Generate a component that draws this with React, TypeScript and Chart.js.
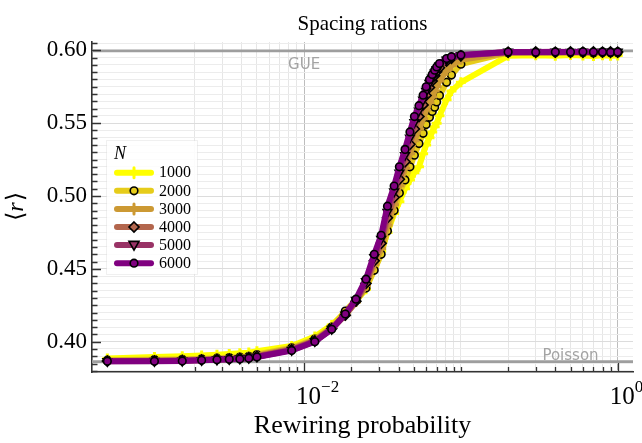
import React, { useEffect, useRef } from 'react';
import { Chart, registerables } from 'chart.js';

Chart.register(...registerables);

// ---------- data ----------
const P = [
  0.000556, 0.00111, 0.00167, 0.00222, 0.00278, 0.00333, 0.00389, 0.00444, 0.005,
  0.00833, 0.0117, 0.015, 0.0183,
  0.0214, 0.0248, 0.028, 0.031, 0.034, 0.0375, 0.0405, 0.044, 0.0473, 0.0505,
  0.054, 0.0574, 0.06, 0.063, 0.0656, 0.068, 0.07, 0.073, 0.081, 0.087,
  0.1,
  0.2, 0.3, 0.4, 0.5, 0.6, 0.7, 0.8, 0.9, 1.0,
];

const R1000 = [
  0.3885, 0.3895, 0.3900, 0.3905, 0.3910, 0.3915, 0.3920, 0.3925, 0.3935,
  0.3970, 0.4035, 0.4115, 0.4200,
  0.4280, 0.4360, 0.4520, 0.4620, 0.4750, 0.4880, 0.4960, 0.5050, 0.5110, 0.5160,
  0.5200, 0.5290, 0.5350, 0.5400, 0.5440, 0.5475, 0.5500, 0.5550, 0.5660, 0.5720,
  0.5780,
  0.5962, 0.5966, 0.5963, 0.5967, 0.5964, 0.5961, 0.5966, 0.5963, 0.5965,
];
const R2000 = [
  0.3873, 0.3877, 0.3879, 0.3883, 0.3887, 0.3891, 0.3895, 0.3900, 0.3912,
  0.3958, 0.4018, 0.4100, 0.4210,
  0.4285, 0.4368, 0.4490, 0.4600, 0.4760, 0.4900, 0.5020, 0.5110, 0.5200, 0.5280,
  0.5360, 0.5430, 0.5490, 0.5540, 0.5580, 0.5610, 0.5646, 0.5690, 0.5780, 0.5830,
  0.5905,
  0.5984, 0.5983, 0.5985, 0.5983, 0.5984, 0.5982, 0.5985, 0.5983, 0.5984,
];
const R3000 = [
  0.3870, 0.3873, 0.3875, 0.3879, 0.3883, 0.3887, 0.3891, 0.3896, 0.3906,
  0.3952, 0.4012, 0.4095, 0.4182,
  0.4272, 0.4385, 0.4530, 0.4640, 0.4800, 0.4940, 0.5070, 0.5190, 0.5290, 0.5380,
  0.5460, 0.5530, 0.5590, 0.5640, 0.5680, 0.5720, 0.5750, 0.5790, 0.5860, 0.5895,
  0.5935,
  0.5985, 0.5986, 0.5984, 0.5986, 0.5985, 0.5987, 0.5985, 0.5986, 0.5985,
];
const R4000 = [
  0.3867, 0.3868, 0.3871, 0.3875, 0.3879, 0.3882, 0.3886, 0.3891, 0.3900,
  0.3946, 0.4006, 0.4090, 0.4182,
  0.4278, 0.4400, 0.4555, 0.4675, 0.4850, 0.4990, 0.5115, 0.5235, 0.5355, 0.5460,
  0.5545, 0.5625, 0.5690, 0.5745, 0.5790, 0.5825, 0.5852, 0.5880, 0.5925, 0.5945,
  0.5962,
  0.5988, 0.5989, 0.5987, 0.5989, 0.5988, 0.5990, 0.5988, 0.5989, 0.5988,
];
const R5000 = [
  0.3866, 0.3867, 0.3869, 0.3873, 0.3877, 0.3880, 0.3884, 0.3888, 0.3897,
  0.3942, 0.4003, 0.4087, 0.4185,
  0.4285, 0.4415, 0.4580, 0.4705, 0.4890, 0.5030, 0.5160, 0.5280, 0.5400, 0.5505,
  0.5585, 0.5660, 0.5720, 0.5775, 0.5812, 0.5845, 0.5870, 0.5895, 0.5935, 0.5950,
  0.5965,
  0.5989, 0.5988, 0.5990, 0.5988, 0.5989, 0.5987, 0.5990, 0.5988, 0.5989,
];
const R6000 = [
  0.3865, 0.3866, 0.3868, 0.3872, 0.3876, 0.3879, 0.3882, 0.3886, 0.3895,
  0.3940, 0.4000, 0.4085, 0.4190,
  0.4292, 0.4429, 0.4600, 0.4730, 0.4930, 0.5068, 0.5200, 0.5320, 0.5440, 0.5545,
  0.5620, 0.5692, 0.5749, 0.5799, 0.5834, 0.5863, 0.5886, 0.5909, 0.5943, 0.5956,
  0.5968,
  0.5988, 0.5987, 0.5989, 0.5988, 0.5990, 0.5988, 0.5989, 0.5987, 0.5989,
];

const SERIES_LABELS = ['1000', '2000', '3000', '4000', '5000', '6000'];
const SERIES_VALUES = [R1000, R2000, R3000, R4000, R5000, R6000];
const SERIES_COLORS = ['#ffff00', '#e6cc1a', '#cc9933', '#b3664d', '#993366', '#800080'];
const SERIES_MARKERS = ['cross', 'circle', 'cross', 'diamond', 'triangleDown', 'circle'];

const GUE = 0.5996;
const POISSON = 0.3863;
const GUE_LABEL = { text: 'GUE', x: 0.01, y: 0.5875 };
const POISSON_LABEL = { text: 'Poisson', x: 0.5, y: 0.3877 };

const TITLE = 'Spacing rations';
const X_TITLE = 'Rewiring probability';
const LEGEND_TITLE = 'N';

const X_MIN = 4.437e-4;
const X_MAX = 1.2518;
const Y_MIN = 0.3792;
const Y_MAX = 0.6057;

const X_MAJOR = [0.01, 1];
const X_MAJOR_LABELS = [['10', '\u22122'], ['10', '0']];
const X_MINOR = [
  0.002, 0.003, 0.004, 0.005, 0.006, 0.007, 0.008, 0.009,
  0.02, 0.03, 0.04, 0.05, 0.06, 0.07, 0.08, 0.09,
  0.1, 0.2, 0.3, 0.4, 0.5, 0.6, 0.7, 0.8, 0.9,
];
const Y_MAJOR = [0.40, 0.45, 0.50, 0.55, 0.60];
const Y_MAJOR_LABELS = ['0.40', '0.45', '0.50', '0.55', '0.60'];
const Y_MINOR_STEP = 0.005;

const SERIF = '"Liberation Serif", "DejaVu Serif", serif';

function yTickValues(): number[] {
  const out: number[] = [];
  for (let k = 76; k <= 121; k++) out.push(Math.round(k * Y_MINOR_STEP * 10000) / 10000);
  return out;
}
const isYMajor = (v: number) => Y_MAJOR.some((m) => Math.abs(m - v) < 1e-6);
const isXMajor = (v: number) => X_MAJOR.some((m) => Math.abs(m - v) / m < 1e-6);

function markerPath(ctx: CanvasRenderingContext2D, style: string, x: number, y: number, r: number) {
  ctx.beginPath();
  if (style === 'circle') {
    ctx.arc(x, y, r, 0, Math.PI * 2);
  } else if (style === 'diamond') {
    ctx.moveTo(x, y - r); ctx.lineTo(x + r, y); ctx.lineTo(x, y + r); ctx.lineTo(x - r, y); ctx.closePath();
  } else if (style === 'triangleDown') {
    ctx.moveTo(x - r, y - r * 0.75); ctx.lineTo(x + r, y - r * 0.75); ctx.lineTo(x, y + r); ctx.closePath();
  }
}

function drawMarker(ctx: CanvasRenderingContext2D, style: string, x: number, y: number, color: string) {
  ctx.save();
  if (style === 'cross') {
    ctx.strokeStyle = color; ctx.lineWidth = 3;
    ctx.beginPath();
    ctx.moveTo(x - 5, y); ctx.lineTo(x + 5, y);
    ctx.moveTo(x, y - 5); ctx.lineTo(x, y + 5);
    ctx.stroke();
  } else {
    markerPath(ctx, style, x, y, style === 'circle' ? 3.8 : 5);
    ctx.fillStyle = color; ctx.fill();
    ctx.strokeStyle = '#000'; ctx.lineWidth = 1.6; ctx.stroke();
  }
  ctx.restore();
}

const customPlugin = {
  id: 'customDecor',
  beforeDatasetsDraw(chart: any) {
    const { ctx, chartArea: a, scales } = chart;
    const x = scales.x, y = scales.y;
    ctx.save();
    ctx.strokeStyle = '#9e9e9e';
    ctx.lineWidth = 2.6;
    for (const v of [GUE, POISSON]) {
      const py = y.getPixelForValue(v);
      ctx.beginPath(); ctx.moveTo(a.left, py); ctx.lineTo(a.right, py); ctx.stroke();
    }
    ctx.fillStyle = '#a3a3a3';
    ctx.font = '15px "DejaVu Sans", sans-serif';
    ctx.textAlign = 'center';
    ctx.textBaseline = 'alphabetic';
    for (const l of [GUE_LABEL, POISSON_LABEL]) {
      ctx.fillText(l.text, x.getPixelForValue(l.x), y.getPixelForValue(l.y));
    }
    ctx.restore();
  },
  afterDatasetsDraw(chart: any) {
    const { ctx, chartArea: a, scales } = chart;
    const x = scales.x, y = scales.y;
    ctx.save();
    // inward ticks
    ctx.strokeStyle = '#333';
    ctx.lineWidth = 1.3;
    ctx.beginPath();
    for (const v of [...X_MINOR, ...X_MAJOR]) {
      const px = Math.round(x.getPixelForValue(v)) + 0.5;
      const len = isXMajor(v) ? 9 : 5;
      ctx.moveTo(px, a.bottom); ctx.lineTo(px, a.bottom - len);
    }
    for (const v of yTickValues()) {
      const py = Math.round(y.getPixelForValue(v)) + 0.5;
      const len = isYMajor(v) ? 9 : 5.5;
      ctx.moveTo(a.left, py); ctx.lineTo(a.left + len, py);
    }
    ctx.stroke();

    // legend
    ctx.fillStyle = 'rgba(255,255,255,0.85)';
    ctx.strokeStyle = 'rgba(0,0,0,0.06)';
    ctx.lineWidth = 1;
    ctx.beginPath();
    ctx.rect(106.5, 140.5, 91, 134);
    ctx.fill(); ctx.stroke();
    ctx.fillStyle = '#000';
    ctx.font = `italic 18px ${SERIF}`;
    ctx.textAlign = 'left';
    ctx.textBaseline = 'middle';
    ctx.fillText(LEGEND_TITLE, 114, 154);
    const y0 = 172.7, dy = 18.1;
    SERIES_LABELS.forEach((lab, i) => {
      const ry = y0 + i * dy;
      ctx.strokeStyle = SERIES_COLORS[i];
      ctx.lineWidth = 6;
      ctx.lineCap = 'round';
      ctx.beginPath(); ctx.moveTo(117, ry); ctx.lineTo(151, ry); ctx.stroke();
      drawMarker(ctx, SERIES_MARKERS[i], 134, ry, SERIES_COLORS[i]);
      ctx.fillStyle = '#000';
      ctx.font = `16px ${SERIF}`;
      ctx.textAlign = 'left';
      ctx.textBaseline = 'middle';
      ctx.fillText(lab, 159, ry + 0.5);
    });
    ctx.restore();
  },
  afterDraw(chart: any) {
    const { ctx, chartArea: a, scales } = chart;
    const x = scales.x;
    const cx = (a.left + a.right) / 2;
    ctx.save();
    ctx.fillStyle = '#000';
    ctx.textBaseline = 'alphabetic';
    ctx.textAlign = 'center';
    ctx.font = `21px ${SERIF}`;
    ctx.fillText(TITLE, cx, 30);
    ctx.font = `26px ${SERIF}`;
    ctx.fillText(X_TITLE, cx, 433);

    // x tick labels with superscripts
    ctx.textAlign = 'left';
    X_MAJOR.forEach((v, i) => {
      const px = x.getPixelForValue(v);
      const [base, exp] = X_MAJOR_LABELS[i];
      ctx.font = `25px ${SERIF}`;
      const bw = ctx.measureText(base).width;
      const left = px - 8;
      ctx.fillText(base, left, 404);
      ctx.font = `17px ${SERIF}`;
      ctx.fillText(exp, left + bw, 392);
    });

    // y title <r>
    ctx.translate(16.7, (a.top + a.bottom) / 2);
    ctx.rotate(-Math.PI / 2);
    const parts = [
      { t: '\u27E8', f: `24px ${SERIF}` },
      { t: 'r', f: `italic 24px ${SERIF}` },
      { t: '\u27E9', f: `24px ${SERIF}` },
    ];
    let total = 0;
    const widths = parts.map((p) => { ctx.font = p.f; const w = ctx.measureText(p.t).width; total += w; return w; });
    let sx = -total / 2;
    ctx.textBaseline = 'middle';
    parts.forEach((p, i) => { ctx.font = p.f; ctx.fillText(p.t, sx, 0); sx += widths[i] + (i === 1 ? 1 : 0); });
    ctx.restore();
  },
};

export default function App() {
  const ref = useRef<HTMLCanvasElement | null>(null);
  useEffect(() => {
    if (!ref.current) return;
    const datasets = SERIES_LABELS.map((lab, i) => {
      const color = SERIES_COLORS[i];
      const m = SERIES_MARKERS[i];
      const isCross = m === 'cross';
      return {
        label: lab,
        data: P.map((px, j) => ({ x: px, y: SERIES_VALUES[i][j] })),
        borderColor: color,
        backgroundColor: color,
        borderWidth: 6,
        borderJoinStyle: 'round' as const,
        borderCapStyle: 'round' as const,
        tension: 0,
        pointStyle: isCross ? 'cross' : m === 'diamond' ? 'rectRot' : m === 'triangleDown' ? 'triangle' : 'circle',
        pointRotation: m === 'triangleDown' ? 180 : 0,
        pointRadius: isCross ? 5 : m === 'circle' ? 3.8 : 5,
        pointBorderWidth: isCross ? 3 : 1.6,
        pointBorderColor: isCross ? color : '#000',
        pointBackgroundColor: color,
        order: SERIES_LABELS.length - 1 - i,
      };
    });
    const chart = new Chart(ref.current, {
      type: 'line',
      data: { datasets },
      options: {
        animation: false,
        responsive: false,
        devicePixelRatio: 1,
        layout: { padding: { top: 42, right: 9, left: 0, bottom: 0 } },
        plugins: { legend: { display: false }, tooltip: { enabled: false }, title: { display: false } },
        scales: {
          x: {
            type: 'logarithmic',
            min: X_MIN,
            max: X_MAX,
            afterBuildTicks: (s: any) => { s.ticks = [...X_MINOR, ...X_MAJOR].sort((p, q) => p - q).map((v) => ({ value: v })); },
            afterFit: (s: any) => { s.height = 71; },
            ticks: { display: false },
            grid: {
              drawTicks: false,
              lineWidth: 1,
              color: (c: any) => (c.tick && isXMajor(c.tick.value) ? '#bdbdbd' : '#e6e6e6'),
            },
            border: { display: true, color: '#333', width: 1.6 },
          },
          y: {
            type: 'linear',
            min: Y_MIN,
            max: Y_MAX,
            afterBuildTicks: (s: any) => { s.ticks = yTickValues().map((v) => ({ value: v })); },
            afterFit: (s: any) => { s.width = 92; },
            ticks: {
              autoSkip: false,
              padding: 5,
              color: '#000',
              font: { family: SERIF, size: 23 },
              callback: (v: any) => {
                const idx = Y_MAJOR.findIndex((m) => Math.abs(m - Number(v)) < 1e-6);
                return idx >= 0 ? Y_MAJOR_LABELS[idx] : '';
              },
            },
            grid: {
              drawTicks: false,
              lineWidth: 1,
              color: (c: any) => (c.tick && isYMajor(c.tick.value) ? '#dcdcdc' : '#ececec'),
            },
            border: { display: true, color: '#333', width: 1.6 },
          },
        },
      },
      plugins: [customPlugin],
    } as any);
    return () => chart.destroy();
  }, []);
  return (
    <div style={{ position: 'fixed', left: 0, top: 0, width: 642, height: 443, background: '#fff' }}>
      <canvas ref={ref} width={642} height={443} style={{ display: 'block', width: 642, height: 443 }} />
    </div>
  );
}
